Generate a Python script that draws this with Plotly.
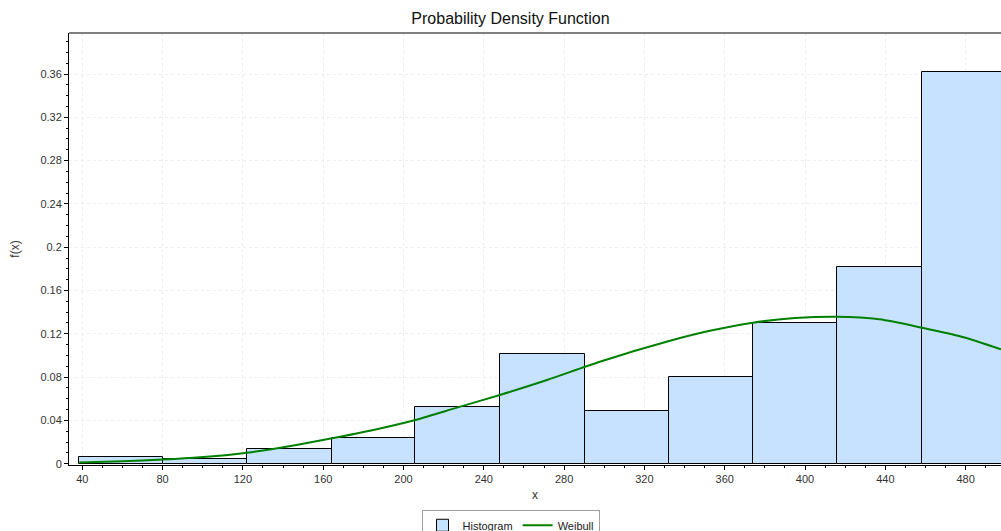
import plotly.graph_objects as go

# ---- data ----
bin_edges = [38.4, 80.1, 122.2, 164.4, 205.9, 248.1, 290.3, 332.3, 374.0, 416.0, 458.3, 500.2]
hist_values = [0.0059, 0.0041, 0.0133, 0.0240, 0.0521, 0.1013, 0.0487, 0.0798, 0.1300, 0.1814, 0.3616]

weibull_x = [38.5, 60, 80, 98.7, 122, 143, 164.4, 185, 205.9, 227, 248, 271.5, 297.8,
             332.3, 352, 374, 395, 416, 437, 458.3, 478, 497.6]
weibull_y = [0.0010, 0.0022, 0.0038, 0.0059, 0.0102, 0.0162, 0.0235, 0.0312, 0.0404, 0.0520,
             0.0635, 0.0773, 0.0942, 0.1133, 0.1225, 0.1303, 0.1345, 0.1358, 0.1334, 0.1256,
             0.1173, 0.1057]

x_ticks = [40, 80, 120, 160, 200, 240, 280, 320, 360, 400, 440, 480]
y_ticks = [0, 0.04, 0.08, 0.12, 0.16, 0.2, 0.24, 0.28, 0.32, 0.36]
y_tick_labels = ["0", "0.04", "0.08", "0.12", "0.16", "0.2", "0.24", "0.28", "0.32", "0.36"]

bar_left = bin_edges[:-1]
bar_width = [b - a for a, b in zip(bin_edges[:-1], bin_edges[1:])]

FONT = "Liberation Sans, Arial, sans-serif"

fig = go.Figure()
fig.add_trace(go.Bar(
    x=bar_left, y=hist_values, width=bar_width, offset=0,
    name="Histogram",
    marker=dict(color="#C6E2FF", line=dict(color="#000000", width=1)),
))
fig.add_trace(go.Scatter(
    x=weibull_x, y=weibull_y, mode="lines", name="Weibull",
    line=dict(color="#008000", width=2, shape="spline", smoothing=0.8),
))

fig.update_layout(
    width=1001, height=531,
    margin=dict(l=69, r=0, t=33, b=66),
    paper_bgcolor="white", plot_bgcolor="white",
    font=dict(family=FONT, size=11, color="#333333"),
    title=dict(text="Probability Density Function", x=0.51, xref="container",
               y=0.966, yref="container", yanchor="middle", xanchor="center",
               font=dict(family=FONT, size=16, color="#111111")),
    bargap=0,
    showlegend=True,
    legend=dict(orientation="h", xref="container", yref="container",
                x=0.51, xanchor="center", y=0.040, yanchor="top",
                bordercolor="#A0A0A0", borderwidth=1, bgcolor="white",
                font=dict(family=FONT, size=11, color="#222222"),
                itemwidth=30, tracegroupgap=0),
    xaxis=dict(
        range=[33.4, 497.6], tickvals=x_ticks, ticks="outside", ticklen=4,
        tickcolor="#000000", showline=True, linecolor="#000000", linewidth=1,
        showgrid=True, gridcolor="#EEEEEE", griddash="3px,3px", gridwidth=1,
        zeroline=False,
        minor=dict(dtick=10, tick0=0, ticks="outside", ticklen=2, tickcolor="#000000", showgrid=False),
        title=dict(text="x", standoff=6, font=dict(family=FONT, size=12, color="#333333")),
        tickfont=dict(family=FONT, size=11, color="#333333"),
    ),
    yaxis=dict(
        range=[-0.0012, 0.3979], tickvals=y_ticks, ticktext=y_tick_labels,
        ticks="outside", ticklen=4, tickcolor="#000000",
        showline=True, linecolor="#000000", linewidth=1,
        showgrid=True, gridcolor="#EEEEEE", griddash="3px,3px", gridwidth=1,
        zeroline=False,
        minor=dict(dtick=0.01, tick0=0, ticks="outside", ticklen=2, tickcolor="#000000", showgrid=False),
        title=dict(text="f(x)", standoff=18, font=dict(family=FONT, size=12, color="#333333")),
        tickfont=dict(family=FONT, size=11, color="#333333"),
    ),
    shapes=[dict(type="line", xref="paper", yref="paper", x0=0, x1=1, y0=1, y1=1,
                 line=dict(color="#808080", width=2))],
)

fig.write_html("out.html")
